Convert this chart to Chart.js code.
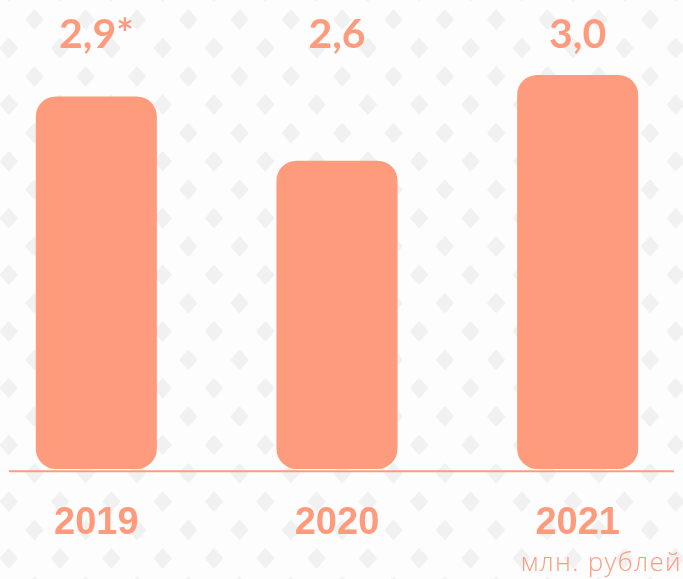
<!DOCTYPE html>
<html>
<head>
<meta charset="utf-8">
<script src="https://cdn.jsdelivr.net/npm/chart.js@4"></script>
<style>
  html, body { margin: 0; padding: 0; width: 683px; height: 579px; overflow: hidden; background: #fdfdfd; }
  #wrap { position: absolute; left: -24px; top: 0; width: 722px; height: 579px; }
  #unit {
    position: absolute; right: 1px; top: 545px;
    font-family: "Open Sans", "Noto Sans", sans-serif; font-weight: 300;
    font-size: 26px; line-height: 32px; color: #ff9b7d; letter-spacing: 1.3px;
  }
</style>
</head>
<body>
<div id="wrap"><canvas id="chart"></canvas></div>
<div id="unit">млн. рублей</div>
<script>
// ======= Data =======
const years  = ["2019", "2020", "2021"];
const values = [2.9, 2.6, 3.0];
const notes  = ["*", "", ""];   // footnote mark after the value
const yMin = 1.16, yMax = 3.0;  // axis range of the original (not from zero)

const salmon = "#ff9b7d";

// ======= Plugins =======
// faint diamond pattern behind everything
const patternBg = {
  id: "patternBg",
  beforeDraw(chart) {
    const { ctx, width, height } = chart;
    ctx.save();
    ctx.fillStyle = "#fdfdfd";
    ctx.fillRect(0, 0, width, height);
    ctx.fillStyle = "#f1f1f1";
    ctx.strokeStyle = "#f1f1f1";
    ctx.lineWidth = 2;
    ctx.lineJoin = "round";
    const dx = 51.3, dy = 56.7;
    const diamond = (cx, cy) => {
      ctx.beginPath();
      ctx.moveTo(cx, cy - 9);
      ctx.lineTo(cx + 8, cy);
      ctx.lineTo(cx, cy + 9);
      ctx.lineTo(cx - 8, cy);
      ctx.closePath();
      ctx.fill();
      ctx.stroke();
    };
    for (let j = -1; j < height / dy + 1; j++) {
      for (let i = -1; i < width / dx + 1; i++) {
        diamond(32.8 + i * dx, -8.7 + j * dy);
        diamond(58.4 + i * dx, 19.6 + j * dy);
      }
    }
    ctx.restore();
  }
};

// value labels on top row + baseline under bars
const decor = {
  id: "decor",
  afterDatasetsDraw(chart) {
    const { ctx, chartArea } = chart;
    const meta = chart.getDatasetMeta(0);
    ctx.save();
    ctx.fillStyle = salmon;
    ctx.font = "bold 41px Lato, 'Liberation Sans', sans-serif";
    ctx.textAlign = "center";
    ctx.textBaseline = "alphabetic";
    meta.data.forEach((bar, i) => {
      const txt = values[i].toFixed(1).replace(".", ",") + notes[i];
      ctx.fillText(txt, bar.x, chartArea.top - 27);
    });

    // baseline (doesn't span full chart area)
    const y = chart.scales.y.bottom + 2.4;
    ctx.strokeStyle = salmon;
    ctx.lineWidth = 2;
    ctx.beginPath();
    ctx.moveTo(chartArea.left + 33, y);
    ctx.lineTo(chartArea.right - 24, y);
    ctx.stroke();
    ctx.restore();
  }
};

// ======= Chart =======
new Chart(document.getElementById("chart"), {
  type: "bar",
  data: {
    labels: years,
    datasets: [{
      data: values,
      base: yMin,
      backgroundColor: salmon,
      borderRadius: 20,
      borderSkipped: false,
      barPercentage: 0.503,
      categoryPercentage: 1
    }]
  },
  options: {
    responsive: true,
    maintainAspectRatio: false,
    animation: false,
    layout: { padding: { top: 75, bottom: 0.5, left: 0, right: 0 } },
    plugins: {
      legend: { display: false },
      tooltip: { enabled: false }
    },
    scales: {
      x: {
        grid: { display: false, drawTicks: false },
        border: { display: false },
        ticks: {
          color: salmon,
          padding: 32,
          font: { family: "'Liberation Sans Narrow', 'Liberation Sans', sans-serif", weight: "bold", size: 38 }
        }
      },
      y: {
        display: false,
        beginAtZero: false,
        min: yMin,
        max: yMax
      }
    }
  },
  plugins: [patternBg, decor]
});
</script>
</body>
</html>
